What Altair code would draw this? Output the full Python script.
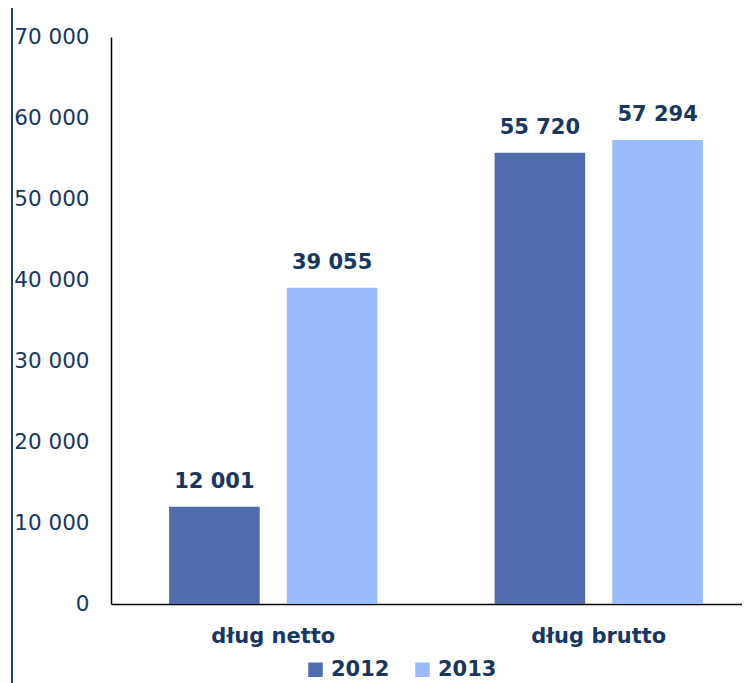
import altair as alt
import pandas as pd

categories = ["dług netto", "dług brutto"]
years = ["2012", "2013"]
values_2012 = [12001, 55720]
values_2013 = [39055, 57294]
colors = ["#506CAE", "#9BBBFF"]
text_color = "#17375E"

rows = []
for i, c in enumerate(categories):
    rows.append({"kategoria": c, "rok": years[0], "wartosc": values_2012[i]})
    rows.append({"kategoria": c, "rok": years[1], "wartosc": values_2013[i]})
df = pd.DataFrame(rows)

x_enc = alt.X("kategoria:N", sort=categories, title=None,
              scale=alt.Scale(range=[0, 650], paddingInner=0.36, paddingOuter=0.1785),
              axis=alt.Axis(labelAngle=0, ticks=False, labelPadding=21,
                            labelFont="DejaVu Sans", labelFontWeight="bold",
                            labelFontSize=21, labelColor=text_color,
                            domainColor="black", domainWidth=1.5))
xo_enc = alt.XOffset("rok:N", sort=years,
                     scale=alt.Scale(paddingInner=0.23, paddingOuter=0))
y_enc = alt.Y("wartosc:Q", title=None,
              scale=alt.Scale(domain=[0, 70000], nice=False),
              axis=alt.Axis(values=[0, 10000, 20000, 30000, 40000, 50000, 60000, 70000],
                            labelExpr="replace(format(datum.value, ',d'), ',', ' ')",
                            ticks=False, grid=False, labelPadding=22,
                            labelFont="DejaVu Sans", labelFontSize=21.5,
                            labelColor=text_color, domainColor="black",
                            domainWidth=1.5))

base = alt.Chart(df)

bars = base.mark_bar().encode(
    x=x_enc,
    xOffset=xo_enc,
    y=y_enc,
    color=alt.Color("rok:N", sort=years,
                    scale=alt.Scale(domain=years, range=colors),
                    legend=alt.Legend(title=None, orient="none", legendX=194, legendY=622,
                                      direction="horizontal", symbolType="square",
                                      symbolSize=210, symbolStrokeWidth=0,
                                      labelFont="DejaVu Sans", labelFontWeight="bold",
                                      labelFontSize=21, labelColor=text_color,
                                      labelOffset=5, columnPadding=22)),
)

labels = base.transform_calculate(
    lbl="replace(format(datum.wartosc, ',d'), ',', ' ')"
).mark_text(font="DejaVu Sans", fontWeight="bold", fontSize=21,
            color=text_color, baseline="middle", dy=-25).encode(
    x=alt.X("kategoria:N", sort=categories),
    xOffset=alt.XOffset("rok:N", sort=years),
    y=alt.Y("wartosc:Q"),
    text="lbl:N",
)

border = alt.Chart(pd.DataFrame({"a": [0]})).mark_rule(
    color="#1A4580", strokeWidth=2
).encode(x=alt.value(-99), y=alt.value(-37), y2=alt.value(660))

chart = alt.layer(bars, labels, border).properties(
    width=631, height=567,
    padding={"left": 103, "top": 29, "right": 0, "bottom": 86},
    autosize=alt.AutoSizeParams(type="none"),
).configure_view(stroke=None)

chart.save("out.html", embed_options={"renderer": "svg", "actions": False})
